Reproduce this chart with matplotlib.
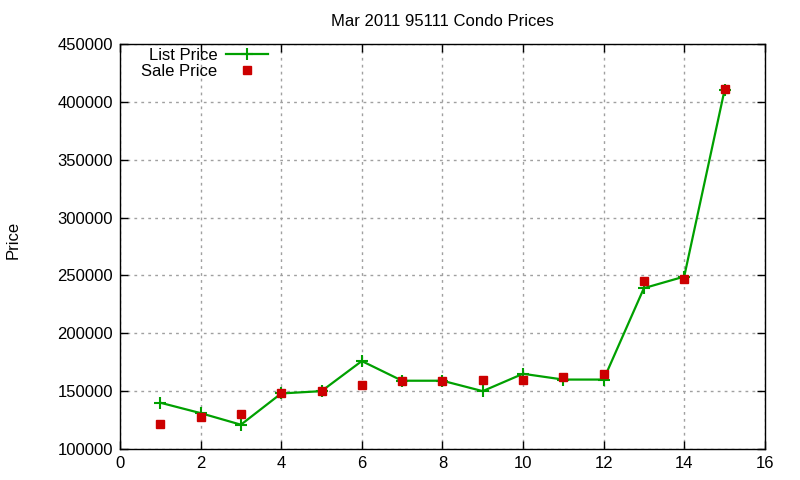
import matplotlib
matplotlib.use("Agg")
import matplotlib.pyplot as plt

# listing index -> price
x = [1, 2, 3, 4, 5, 6, 7, 8, 9, 10, 11, 12, 13, 14, 15]
list_price = [140000, 131000, 121000, 148000, 150000, 176000, 159000, 159000,
              150000, 165000, 160000, 160000, 239000, 249000, 410000]
sale_price = [121500, 128000, 130000, 148000, 150000, 155000, 159000, 159000,
              160000, 160000, 162000, 165000, 245000, 247000, 411000]

plt.rcParams["font.family"] = ["Liberation Sans", "DejaVu Sans"]
plt.rcParams["font.size"] = 12

fig = plt.figure(figsize=(8, 4.8), dpi=100)
ax = fig.add_axes([0.15, 0.0646, 0.806, 0.8437])

ax.plot(x, list_price, color="#00a000", linewidth=1.6, marker="+",
        markersize=8, markeredgewidth=1.5, label="List Price")
ax.plot(x, sale_price, linestyle="none", color="#cc0000", marker="s",
        markersize=6, label="Sale Price")

ax.set_xlim(0, 16)
ax.set_ylim(100000, 450000)
ax.set_xticks(range(0, 17, 2))
ax.set_yticks(range(100000, 450001, 50000))
ax.tick_params(direction="in", top=True, right=True, length=6, width=1, pad=5)
ax.grid(True, color="#a0a0a0", linestyle=(0, (2, 3)), linewidth=1)
for s in ax.spines.values():
    s.set_linewidth(1)

ax.set_title("Mar 2011 95111 Condo Prices", fontsize=12, pad=13)
fig.text(0.016, 0.5, "Price", rotation=90, ha="center", va="center", fontsize=12)

ax.legend(loc="upper right", bbox_to_anchor=(268 / 800, 1 - 48 / 480),
          bbox_transform=fig.transFigure, frameon=False,
          markerfirst=False, handlelength=2.5, handletextpad=0.55,
          labelspacing=0.05, borderaxespad=0, borderpad=0)

fig.savefig("out.png", dpi=100)
